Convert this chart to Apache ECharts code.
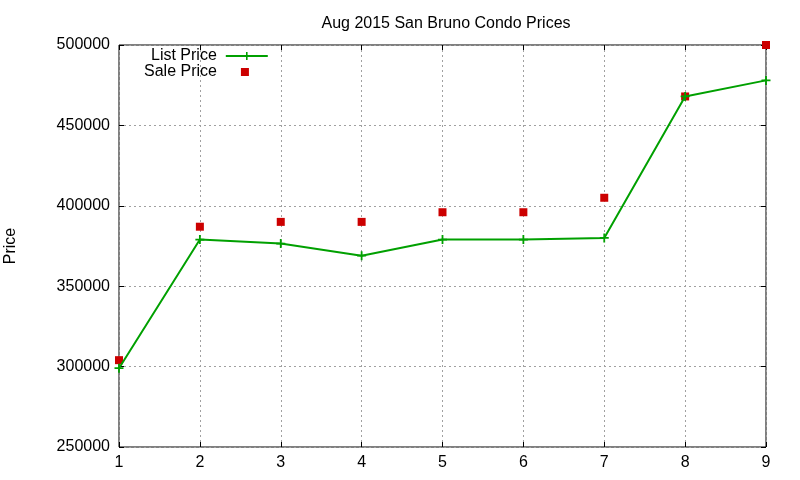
<!DOCTYPE html>
<html>
<head>
<meta charset="utf-8">
<script src="https://cdn.jsdelivr.net/npm/echarts@6/dist/echarts.min.js"></script>
<style>
  html, body { margin: 0; padding: 0; background: #fff; }
  #chart { width: 800px; height: 480px; }
</style>
</head>
<body>
<div id="chart"></div>
<script>
// house number on the x axis, prices
var houses = [1, 2, 3, 4, 5, 6, 7, 8, 9];
var listPrice = [299000, 379000, 376500, 369000, 379000, 379000, 380000, 468000, 478000];
var salePrice = [304000, 387000, 390000, 390000, 396000, 396000, 405000, 468000, 500000];

var FONT = 'Liberation Sans, Arial, sans-serif';
var plus = 'path://M4,0h2v4h4v2h-4v4h-2v-4h-4v-2h4z';

function pairs(ys) {
  return houses.map(function (x, i) { return [x, ys[i]]; });
}

var gridLine = { show: true, lineStyle: { color: '#a0a0a0', type: [2, 3], width: 1 } };
var tickIn = { show: true, inside: true, length: 5, lineStyle: { color: '#000' } };

var chart = echarts.init(document.getElementById('chart'));
chart.setOption({
  animation: false,
  textStyle: { fontFamily: FONT },
  title: {
    text: 'Aug 2015 San Bruno Condo Prices',
    left: 441, top: 11, textAlign: 'center',
    textStyle: { fontFamily: FONT, fontSize: 16, fontWeight: 'normal', color: '#000' }
  },
  legend: [{
    data: ['List Price'],
    left: 151, top: 48,
    align: 'right',
    itemWidth: 42, itemHeight: 10,
    padding: 0,
    textStyle: { fontFamily: FONT, fontSize: 16, color: '#000', padding: [0, 4, 0, 0] }
  }, {
    data: ['Sale Price'],
    left: 144, top: 64,
    align: 'right',
    itemWidth: 8, itemHeight: 8,
    padding: 0,
    textStyle: { fontFamily: FONT, fontSize: 16, color: '#000', padding: [0, 19, 0, 0] }
  }],
  grid: {
    left: 119, right: 34, top: 45, bottom: 33,
    outerBoundsMode: 'none',
    containLabel: false,
    show: true, borderColor: '#000', borderWidth: 1
  },
  xAxis: [{
    type: 'value', min: 1, max: 9, interval: 1,
    axisLine: { show: false },
    axisTick: tickIn,
    splitLine: gridLine,
    axisLabel: { fontFamily: FONT, fontSize: 16, color: '#000', margin: 8 }
  }, {
    type: 'value', position: 'top', min: 1, max: 9, interval: 1,
    axisLine: { show: false }, axisTick: tickIn,
    splitLine: { show: false }, axisLabel: { show: false }
  }],
  yAxis: [{
    type: 'value', min: 250000, max: 500000, interval: 50000,
    name: 'Price', nameLocation: 'middle', nameGap: 100,
    nameTextStyle: { fontFamily: FONT, fontSize: 16, color: '#000' },
    axisLine: { show: false },
    axisTick: tickIn,
    splitLine: gridLine,
    axisLabel: {
      fontFamily: FONT, fontSize: 16, color: '#000', margin: 9,
      formatter: function (v) { return String(v); }
    }
  }, {
    type: 'value', position: 'right', min: 250000, max: 500000, interval: 50000,
    axisLine: { show: false }, axisTick: tickIn,
    splitLine: { show: false }, axisLabel: { show: false }
  }],
  series: [{
    name: 'List Price',
    type: 'line',
    data: pairs(listPrice),
    symbol: plus,
    symbolSize: 9,
    showAllSymbol: true,
    lineStyle: { color: '#00a000', width: 2 },
    itemStyle: { color: '#00a000' }
  }, {
    name: 'Sale Price',
    type: 'scatter',
    data: pairs(salePrice),
    symbol: 'rect',
    symbolSize: 8,
    itemStyle: { color: '#cc0000', opacity: 1 }
  }]
});
</script>
</body>
</html>
